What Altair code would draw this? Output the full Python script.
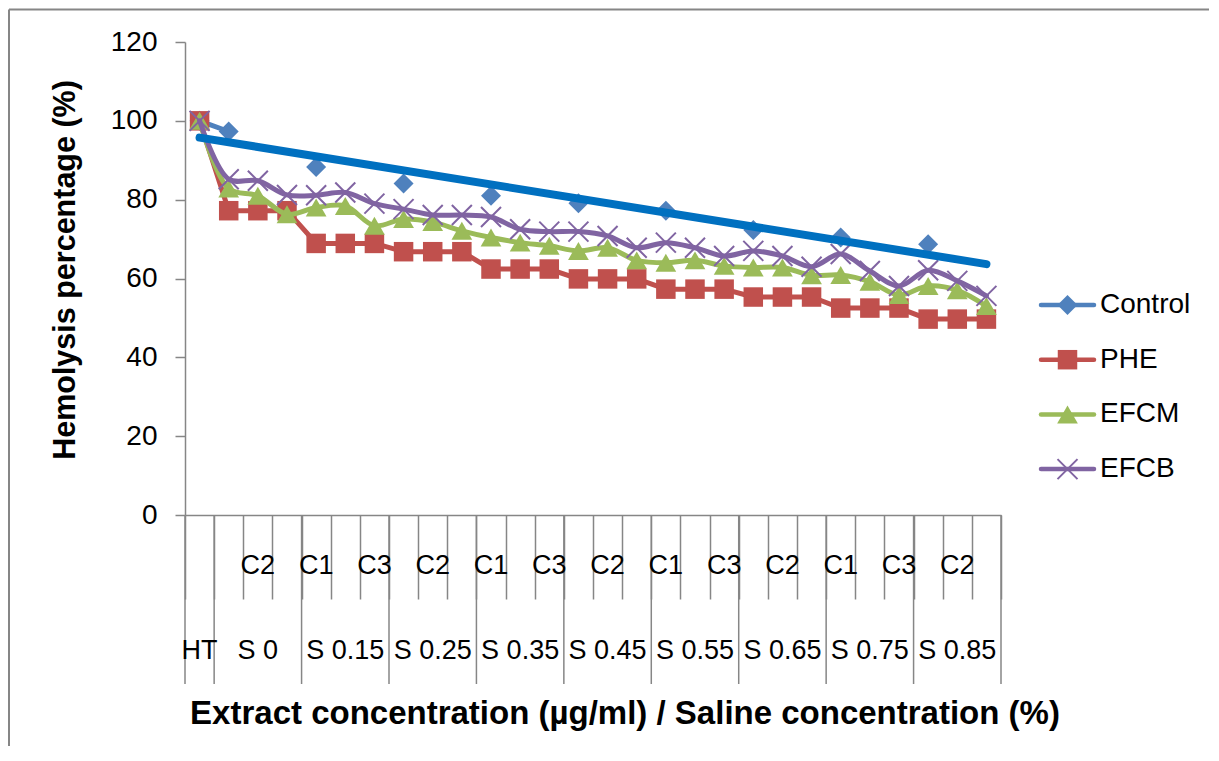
import altair as alt
import pandas as pd

# ---------------- data ----------------
groups = ["HT", "S 0", "S 0.15", "S 0.25", "S 0.35", "S 0.45", "S 0.55", "S 0.65", "S 0.75", "S 0.85"]
subs = ["C1", "C2", "C3"]

control = [100, 97.3, None, None, 88.3, None, None, 84.1, None, None, 81.0, None, None,
           79.1, None, None, 77.2, None, None, 72.3, None, None, 70.4, None, None, 68.7, None, None]
phe = [100, 77.2, 77.2, 77.2, 68.9, 68.9, 68.9, 66.8, 66.8, 66.8, 62.4, 62.4, 62.4, 59.9,
       59.9, 59.9, 57.3, 57.3, 57.3, 55.3, 55.3, 55.3, 52.5, 52.5, 52.5, 49.7, 49.7, 49.7]
efcm = [100, 82.8, 81.0, 76.3, 78.0, 78.4, 73.4, 75.1, 74.3, 72.1, 70.4, 69.1, 68.3, 67.0,
        67.8, 64.6, 64.0, 64.6, 63.2, 62.8, 62.8, 60.8, 60.9, 59.2, 55.8, 58.1, 57.0, 53.0]
efcb = [100, 85.2, 84.8, 81.2, 81.1, 81.8, 79.0, 77.6, 76.1, 76.1, 75.6, 72.5, 71.9, 71.9,
        70.8, 67.8, 69.1, 67.8, 65.7, 67.0, 65.7, 63.0, 66.2, 61.9, 58.1, 62.1, 59.4, 55.6]

series_names = ["Control", "PHE", "EFCM", "EFCB"]
series_values = [control, phe, efcm, efcb]

# ---------------- style ----------------
colors = ["#4F81BD", "#C0504D", "#9BBB59", "#8064A2"]
X_SHAPE = "M-1,-1L1,1M-1,1L1,-1"
shapes = ["diamond", "square", "triangle-up", X_SHAPE]
sizes = [400, 380, 430, 400]
filled = [True, True, True, False]
interps = ["linear", "linear", "catmull-rom", "catmull-rom"]
TREND = "#0070C0"
GRAY = "#868686"
FONT = "Liberation Sans"

cat_group = [groups[0]] + [g for g in groups[1:] for _ in subs]
cat_sub = [""] + [s for _ in groups[1:] for s in subs]
n = len(cat_group)

bounds_all = [i - 0.5 for i in range(n + 1)]
bounds_group = [-0.5, 0.5] + [0.5 + 3 * k for k in range(1, len(groups))]

X = alt.X("idx:Q",
          scale=alt.Scale(domain=[-0.5, n - 0.5], nice=False, zero=False),
          axis=alt.Axis(values=bounds_all, labels=False, title=None, grid=False,
                        tickSize=84, tickColor=GRAY, tickWidth=1.5,
                        domainColor=GRAY, domainWidth=1.5))
Y = alt.Y("val:Q",
          scale=alt.Scale(domain=[0, 120], nice=False, zero=True),
          axis=alt.Axis(values=list(range(0, 121, 20)), title=None, grid=False,
                        labelFont=FONT, labelFontSize=28, labelColor="black",
                        labelPadding=18, tickSize=10, tickColor=GRAY, tickWidth=1.5,
                        domainColor=GRAY, domainWidth=1.5))

dummy = pd.DataFrame({"a": [0]})
layers = []

# chart border (top and left edges, as in the cropped reference)
layers.append(alt.Chart(dummy).mark_rule(color=GRAY, strokeWidth=2).encode(
    x=alt.value(-176), x2=alt.value(1024), y=alt.value(-32.5)))
layers.append(alt.Chart(dummy).mark_rule(color=GRAY, strokeWidth=2).encode(
    x=alt.value(-176), y=alt.value(-32.5), y2=alt.value(704)))

# long group dividers under the axis
div_df = pd.DataFrame({"idx": bounds_group})
layers.append(alt.Chart(div_df).mark_rule(color=GRAY, strokeWidth=1.5).encode(
    x=X, y=alt.value(473), y2=alt.value(642)))

# category labels (Excel shows every second one)
row1 = pd.DataFrame({"idx": [i for i in range(0, n, 2) if cat_sub[i]],
                     "label": [cat_sub[i] for i in range(0, n, 2) if cat_sub[i]]})
layers.append(alt.Chart(row1).mark_text(font=FONT, fontSize=27, color="black",
                                        align="center", baseline="middle").encode(
    x=X, y=alt.value(524), text="label:N"))

gidx = [0] + [3 * k - 1 for k in range(1, len(groups))]
row2 = pd.DataFrame({"idx": gidx, "label": groups})
layers.append(alt.Chart(row2).mark_text(font=FONT, fontSize=27, color="black",
                                        align="center", baseline="middle").encode(
    x=X, y=alt.value(609), text="label:N"))

# series
for name, vals, c, shp, sz, fl, itp in zip(series_names, series_values, colors,
                                           shapes, sizes, filled, interps):
    df = pd.DataFrame({"idx": list(range(n)), "val": vals})
    layers.append(alt.Chart(df).mark_line(color=c, strokeWidth=5, interpolate=itp,
                                          strokeJoin="round", strokeCap="round",
                                          invalid="break-paths-filter-domains").encode(x=X, y=Y))
    pt_kwargs = dict(shape=shp, size=sz, color=c, opacity=1, filled=fl)
    if not fl:
        pt_kwargs["strokeWidth"] = 2
    layers.append(alt.Chart(df).transform_filter("isValid(datum.val)")
                  .mark_point(**pt_kwargs).encode(x=X, y=Y))

# linear trendline of Control
ctrl_df = pd.DataFrame({"idx": list(range(n)), "val": control})
layers.append(alt.Chart(ctrl_df).transform_filter("isValid(datum.val)")
              .transform_regression("idx", "val", extent=[0, n - 1])
              .mark_line(color=TREND, strokeWidth=8, strokeCap="round").encode(x=X, y=Y))

# legend
for k, (name, c, shp, sz, fl) in enumerate(zip(series_names, colors, shapes, sizes, filled)):
    ly = 263 + 54.7 * k
    layers.append(alt.Chart(dummy).mark_rule(color=c, strokeWidth=4.5, strokeCap="round").encode(
        x=alt.value(856), x2=alt.value(909), y=alt.value(ly)))
    pk = dict(shape=shp, size=sz, color=c, opacity=1, filled=fl)
    if not fl:
        pk["strokeWidth"] = 2
    layers.append(alt.Chart(dummy).mark_point(**pk).encode(x=alt.value(882.5), y=alt.value(ly)))
    layers.append(alt.Chart(dummy).mark_text(text=name, font=FONT, fontSize=28, color="black",
                                             align="left", baseline="middle").encode(
        x=alt.value(915), y=alt.value(ly)))

# axis titles
layers.append(alt.Chart(dummy).mark_text(text="Hemolysis percentage (%)", font=FONT,
                                         fontSize=30.5, fontWeight="bold", color="black",
                                         angle=270, align="center", baseline="middle").encode(
    x=alt.value(-119), y=alt.value(228)))
layers.append(alt.Chart(dummy).mark_text(
    text="Extract concentration (\u00b5g/ml) / Saline concentration (%)", font=FONT,
    fontSize=33, fontWeight="bold", color="black", align="center", baseline="middle").encode(
    x=alt.value(440), y=alt.value(672)))

chart = alt.layer(*layers).properties(
    width=816, height=473, padding=0, background="white"
).configure_view(stroke=None)

chart.save("out.html", embed_options={"renderer": "svg", "actions": False})
